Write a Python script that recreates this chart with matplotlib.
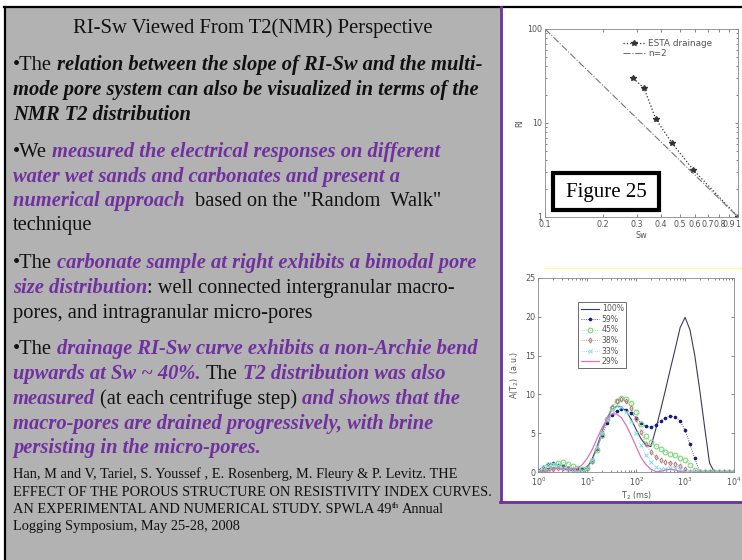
import matplotlib
matplotlib.use("Agg")
import matplotlib.pyplot as plt
from matplotlib.patches import Rectangle
from matplotlib.lines import Line2D

# %% data -- top chart, RI vs Sw
sw_esta = [0.287, 0.326, 0.376, 0.453, 0.585, 1.0]
ri_esta = [29.9, 23.4, 10.9, 6.2, 3.2, 1.0]
sw_n2 = [0.1, 1.0]
ri_n2 = [100.0, 1.0]
sw_ticks = [0.1, 0.2, 0.3, 0.4, 0.5, 0.6, 0.7, 0.8, 0.9, 1.0]
sw_ticklabels = ["0.1", "0.2", "0.3", "0.4", "0.5", "0.6", "0.7", "0.8", "0.9", "1"]

# %% data -- bottom chart, T2 distributions at each centrifuge step
t2 = [1.0, 1.26, 1.58, 2.0, 2.51, 3.16, 3.98, 5.01, 6.31, 7.94,
      10.0, 12.6, 15.8, 20.0, 25.1, 31.6, 39.8, 50.1, 63.1, 79.4,
      100.0, 126.0, 158.0, 200.0, 251.0, 316.0, 398.0, 501.0, 631.0, 794.0,
      1000.0, 1260.0, 1580.0, 2000.0, 2510.0, 3160.0, 3980.0, 5010.0, 6310.0, 7940.0,
      10000.0]
a_100 = [0.1, 0.3, 0.5, 0.6, 0.5, 0.4, 0.3, 0.2, 0.2, 0.3,
         0.6, 1.7, 3.3, 5.2, 6.9, 8.0, 8.5, 8.4, 7.8, 6.8,
         5.5, 4.3, 3.5, 3.3, 5.5, 8.0, 10.6, 13.3, 15.9, 18.6,
         19.9, 18.3, 15.0, 10.5, 5.8, 1.2, 0.0, 0.0, 0.0, 0.0,
         0.0]
a_59 = [0.3, 0.7, 1.1, 1.15, 1.0, 0.8, 0.6, 0.45, 0.4, 0.45,
        0.65, 1.6, 3.0, 4.7, 6.3, 7.4, 7.9, 8.1, 8.0, 7.6,
        7.0, 6.3, 5.9, 5.8, 6.1, 6.6, 7.0, 7.2, 7.1, 6.6,
        5.4, 3.6, 1.8, 0.0, 0.0, 0.0, 0.0, 0.0, 0.0, 0.0,
        0.0]
a_45 = [0.1, 0.2, 0.5, 0.9, 1.2, 1.3, 1.1, 0.8, 0.5, 0.4,
        0.6, 1.4, 2.9, 4.8, 6.8, 8.3, 9.2, 9.5, 9.4, 8.9,
        7.8, 6.2, 4.6, 3.9, 3.4, 3.0, 2.6, 2.4, 2.2, 1.9,
        1.6, 1.0, 0.3, 0.0, 0.0, 0.0, 0.0, 0.0, 0.0, 0.0,
        0.0]
a_38 = [0.0, 0.1, 0.2, 0.4, 0.5, 0.5, 0.4, 0.3, 0.2, 0.2,
        0.5, 1.5, 3.1, 5.0, 6.9, 8.4, 9.2, 9.4, 9.1, 8.3,
        6.9, 5.2, 3.6, 2.6, 2.0, 1.6, 1.3, 1.2, 1.1, 0.8,
        0.4, 0.1, 0.0, 0.0, 0.0, 0.0, 0.0, 0.0, 0.0, 0.0,
        0.0]
a_33 = [0.2, 0.7, 1.1, 1.1, 0.9, 0.6, 0.4, 0.2, 0.1, 0.2,
        0.5, 1.6, 3.2, 5.1, 6.9, 8.0, 8.5, 8.4, 7.8, 6.6,
        5.0, 3.5, 2.2, 1.3, 0.7, 0.4, 0.4, 0.5, 0.6, 0.4,
        0.1, 0.0, 0.0, 0.0, 0.0, 0.0, 0.0, 0.0, 0.0, 0.0,
        0.0]
a_29 = [0.0, 0.1, 0.2, 0.4, 0.5, 0.5, 0.4, 0.4, 0.5, 1.0,
        1.8, 2.9, 4.3, 5.7, 6.8, 7.5, 7.5, 7.0, 6.0, 4.7,
        3.3, 1.9, 1.0, 0.4, 0.1, 0.1, 0.3, 0.4, 0.3, 0.1,
        0.0, 0.0, 0.0, 0.0, 0.0, 0.0, 0.0, 0.0, 0.0, 0.0,
        0.0]
sat_labels = ["100%", "59%", "45%", "38%", "33%", "29%"]

# %% slide text
title = "RI-Sw Viewed From T2(NMR) Perspective"
K, P = "#111111", "#7030a0"
body = [
    (70, [("\u2022The ", K, 0), ("relation between the slope of RI-Sw and the multi-", K, 1)]),
    (95, [("mode pore system can also be visualized in terms of the", K, 1)]),
    (120, [("NMR T2 distribution", K, 1)]),
    (157, [("\u2022We ", K, 0), ("measured the electrical responses on different", P, 1)]),
    (182, [("water wet sands and carbonates and present a", P, 1)]),
    (206, [("numerical approach", P, 1), ("  based on the \"Random  Walk\"", K, 0)]),
    (230, [("technique", K, 0)]),
    (268, [("\u2022The ", K, 0), ("carbonate sample at right exhibits a bimodal pore", P, 1)]),
    (293, [("size distribution", P, 1), (": well connected intergranular macro-", K, 0)]),
    (318, [("pores, and intragranular micro-pores", K, 0)]),
    (354, [("\u2022The ", K, 0), ("drainage RI-Sw curve exhibits a non-Archie bend", P, 1)]),
    (379, [("upwards at Sw ~ 40%.", P, 1), (" The ", K, 0), ("T2 distribution was also", P, 1)]),
    (404, [("measured", P, 1), (" (at each centrifuge step) ", K, 0), ("and shows that the", P, 1)]),
    (429, [("macro-pores are drained progressively, with brine", P, 1)]),
    (453, [("persisting in the micro-pores.", P, 1)]),
]
refs = [
    (478, "Han, M and V, Tariel, S. Youssef , E. Rosenberg, M. Fleury & P. Levitz. THE"),
    (496, "EFFECT OF THE POROUS STRUCTURE ON RESISTIVITY INDEX CURVES."),
    (530, "Logging Symposium, May 25-28, 2008"),
]

W, H = 742, 560
SERIF = "Liberation Serif"
fig = plt.figure(figsize=(W / 100, H / 100), dpi=100)
fig.patch.set_facecolor("white")


def fx(x):
    return x / W


def fy(y):
    return 1 - y / H


def rect(x0, y0, x1, y1, **kw):
    r = Rectangle((fx(x0), fy(y1)), (x1 - x0) / W, (y1 - y0) / H,
                  transform=fig.transFigure, **kw)
    fig.add_artist(r)
    return r


def hline(x0, x1, y, color, lw, z=-4):
    fig.add_artist(Line2D([fx(x0), fx(x1)], [fy(y), fy(y)], color=color, lw=lw,
                          transform=fig.transFigure, zorder=z))


def vline(x, y0, y1, color, lw, z=-4):
    fig.add_artist(Line2D([fx(x), fx(x)], [fy(y0), fy(y1)], color=color, lw=lw,
                          transform=fig.transFigure, zorder=z))


# background panels
rect(5, 7, W, H, facecolor="#b2b2b2", edgecolor="none", zorder=-10)
rect(501, 8, W, 501, facecolor="white", edgecolor="none", zorder=-9)
hline(4, W, 7, "black", 1.6)
vline(5, 7, H, "black", 1.6)
vline(501, 7, 502, P, 2.0)
hline(500, W, 501.5, P, 2.0)
hline(545, W, 267.5, "#ffff90", 0.8)

renderer = fig.canvas.get_renderer()
space_w = {}


def spw(size, bold):
    key = (size, bold)
    if key not in space_w:
        kw = dict(fontsize=size, family=SERIF,
                  weight="bold" if bold else "normal", style="italic" if bold else "normal")
        a = fig.text(0, 0, "n n", **kw)
        b = fig.text(0, 0, "nn", **kw)
        space_w[key] = a.get_window_extent(renderer).width - b.get_window_extent(renderer).width
        a.remove()
        b.remove()
    return space_w[key]


def put_line(x, y, parts, size):
    # parts drawn one after another along a baseline, x/y in pixels from top-left
    for txt, col, bold in parts:
        lead = len(txt) - len(txt.lstrip(" "))
        trail = len(txt) - len(txt.rstrip(" "))
        core = txt.strip(" ")
        x += lead * spw(size, bold)
        t = fig.text(fx(x), fy(y), core, fontsize=size, family=SERIF, color=col,
                     weight="bold" if bold else "normal",
                     style="italic" if bold else "normal", va="baseline", ha="left")
        bb = t.get_window_extent(renderer)
        x = bb.x1 + trail * spw(size, bold)
    return x


fig.text(fx(253), fy(33), title, fontsize=14.9, family=SERIF, color=K,
         ha="center", va="baseline")

for yb, parts in body:
    put_line(13, yb, parts, 14.8)

for yb, line in refs:
    put_line(13, yb, [(line, K, 0)], 10.35)
xe = put_line(13, 513, [("AN EXPERIMENTAL AND NUMERICAL STUDY. SPWLA 49", K, 0)], 10.35)
xe = put_line(xe, 508.5, [("th", K, 0)], 6.5)
put_line(xe, 513, [(" Annual", K, 0)], 10.35)

# %% top chart
GREY = "#555555"
ax1 = fig.add_axes([fx(545), fy(217), 193 / W, 188 / H])
ax1.plot(sw_esta, ri_esta, ls=":", color="#333333", lw=0.9, marker="*", ms=4,
         label="ESTA drainage")
ax1.plot(sw_n2, ri_n2, ls="-.", color="#777777", lw=0.8, label="n=2")
ax1.set_xscale("log")
ax1.set_yscale("log")
ax1.set_xlim(0.1, 1)
ax1.set_ylim(1, 100)
ax1.set_xticks(sw_ticks, sw_ticklabels)
ax1.xaxis.set_minor_locator(matplotlib.ticker.NullLocator())
ax1.set_yticks([1, 10, 100], ["1", "10", "100"])
ax1.set_xlabel("Sw", fontsize=5.8, color=GREY, labelpad=1)
ax1.set_ylabel("RI", fontsize=5.8, color=GREY, labelpad=2)
ax1.legend(loc="upper left", bbox_to_anchor=(0.37, 0.98), frameon=False, fontsize=6.4,
           handlelength=2.6, handletextpad=0.3, labelcolor=GREY, borderpad=0.2,
           labelspacing=0.15)

# %% bottom chart
ax2 = fig.add_axes([fx(538.3), fy(472.3), (734 - 538.3) / W, 194.6 / H])
ax2.plot(t2, a_100, color="#3c3c5c", lw=0.8, label=sat_labels[0])
ax2.plot(t2, a_59, color="#1a1a80", ls=":", lw=0.6, marker="o", ms=1.6, label=sat_labels[1])
ax2.plot(t2, a_45, color="#80d880", ls=":", lw=0.6, marker="o", ms=3.4, mfc="none",
         mew=0.8, label=sat_labels[2])
ax2.plot(t2, a_38, color="#b07878", ls=":", lw=0.6, marker="d", ms=2.6, mfc="none",
         mew=0.7, label=sat_labels[3])
ax2.plot(t2, a_33, color="#7fe0e6", ls=":", lw=0.6, marker="x", ms=2.4, mew=0.7,
         label=sat_labels[4])
ax2.plot(t2, a_29, color="#d873c8", lw=0.9, label=sat_labels[5])
ax2.set_xscale("log")
ax2.set_xlim(1, 1e4)
ax2.set_ylim(0, 25)
ax2.set_yticks([0, 5, 10, 15, 20, 25])
ax2.set_xlabel("T$_2$ (ms)", fontsize=5.8, color=GREY, labelpad=1)
ax2.set_ylabel("A(T$_2$)  (a.u.)", fontsize=5.8, color=GREY, labelpad=3)
leg = ax2.legend(loc="upper left", bbox_to_anchor=(0.185, 0.895), fontsize=5.6,
                 handlelength=2.3, handletextpad=0.4, labelcolor=GREY, borderpad=0.3,
                 labelspacing=0.2, fancybox=False, edgecolor="#555555", framealpha=1)
leg.get_frame().set_linewidth(0.6)

for ax in (ax1, ax2):
    ax.tick_params(which="both", direction="in", top=True, right=True, colors=GREY,
                   labelsize=5.8, pad=1.5, width=0.5)
    ax.tick_params(which="major", length=2.5)
    ax.tick_params(which="minor", length=1.5)
    ax.tick_params(axis="x", pad=2.5)
    ax.tick_params(axis="y", pad=2.2)
    for sp in ax.spines.values():
        sp.set_color("#888888")
        sp.set_linewidth(0.6)

# Figure 25 label box
rect(553, 173, 659, 210, facecolor="white", edgecolor="black", lw=3.0, zorder=5)
fig.text(fx(606), fy(192), "Figure 25", fontsize=15, family=SERIF, color="black",
         ha="center", va="center", zorder=6)

fig.savefig("out.png", dpi=100)
